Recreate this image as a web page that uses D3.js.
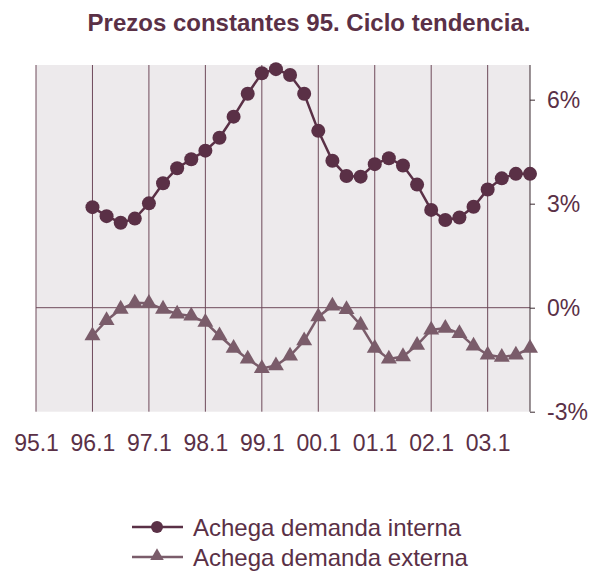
<!DOCTYPE html>
<html>
<head>
<meta charset="utf-8">
<script src="https://cdn.jsdelivr.net/npm/d3@7.9.0/dist/d3.min.js"></script>
<style>
  body { margin: 0; background: #fff; }
  text { font-family: "Liberation Sans", Arial, sans-serif; fill: #5a3046; }
</style>
</head>
<body>
<svg id="chart" width="590" height="577"></svg>
<script>
// quarters 95.1 .. 03.4
const years = ['95', '96', '97', '98', '99', '00', '01', '02', '03'];
const quarters = years.flatMap(y => [1, 2, 3, 4].map(q => `${y}.${q}`));
const tickLabels = ['95.1', '96.1', '97.1', '98.1', '99.1', '00.1', '01.1', '02.1', '03.1'];
const yTicks = [-3, 0, 3, 6];

// series start at 96.1
const seriesStart = '96.1';
const interna = [2.90, 2.64, 2.45, 2.57, 3.01, 3.59, 4.02, 4.28, 4.53, 4.90, 5.51, 6.17,
  6.76, 6.88, 6.71, 6.17, 5.10, 4.24, 3.80, 3.78, 4.14, 4.31, 4.10, 3.55,
  2.82, 2.53, 2.60, 2.91, 3.41, 3.73, 3.86, 3.86];
const externa = [-0.81, -0.37, -0.04, 0.14, 0.13, -0.04, -0.18, -0.24, -0.42, -0.81, -1.17, -1.48,
  -1.75, -1.67, -1.39, -0.95, -0.26, 0.05, -0.05, -0.50, -1.17, -1.48, -1.41, -1.08,
  -0.64, -0.59, -0.74, -1.10, -1.36, -1.43, -1.36, -1.17];

const colInt = '#5a3046';
const colExt = '#7a5c6a';

const svg = d3.select('#chart');
const pLeft = 36, pRight = 530, pTop = 65, pBottom = 411.7;

const x = d3.scalePoint().domain(quarters).range([pLeft, pRight]);
const y = d3.scaleLinear().domain([-3, 7]).range([pBottom, pTop]);

const i0 = quarters.indexOf(seriesStart);
const dInt = interna.map((v, i) => ({ q: quarters[i0 + i], v }));
const dExt = externa.map((v, i) => ({ q: quarters[i0 + i], v }));

// title
svg.append('text')
  .attr('x', 309).attr('y', 31)
  .attr('text-anchor', 'middle')
  .style('font-size', '24px').style('font-weight', 'bold')
  .text('Prezos constantes 95. Ciclo tendencia.');

// plot background
svg.append('rect')
  .attr('x', pLeft).attr('y', pTop)
  .attr('width', pRight - pLeft).attr('height', pBottom - pTop)
  .attr('fill', '#edeaec');

// vertical gridlines at each .1
svg.append('g').selectAll('line')
  .data(tickLabels)
  .join('line')
  .attr('x1', d => x(d)).attr('x2', d => x(d))
  .attr('y1', pTop).attr('y2', pBottom)
  .attr('stroke', '#6e4a5a').attr('stroke-width', 1);

// zero line
svg.append('line')
  .attr('x1', pLeft).attr('x2', pRight)
  .attr('y1', y(0)).attr('y2', y(0))
  .attr('stroke', '#6e4a5a').attr('stroke-width', 1);

// right axis
const yAxis = svg.append('g')
  .attr('transform', `translate(${pRight},0)`)
  .call(d3.axisRight(y).tickValues(yTicks).tickSize(5).tickPadding(12).tickFormat(d => d + '%'));
yAxis.select('.domain').attr('stroke', '#3a2a30').attr('d', `M0,${pTop}V${pBottom}`);
yAxis.selectAll('.tick line').attr('stroke', '#3a2a30');
yAxis.selectAll('.tick text')
  .style('font-size', '23px').style('font-family', '"Liberation Sans", Arial, sans-serif')
  .attr('fill', colInt);

// bottom labels
const xAxis = svg.append('g')
  .attr('transform', `translate(0,${pBottom})`)
  .call(d3.axisBottom(x).tickValues(tickLabels).tickSize(0).tickPadding(23));
xAxis.select('.domain').remove();
xAxis.selectAll('.tick text')
  .style('font-size', '23px').style('font-family', '"Liberation Sans", Arial, sans-serif')
  .attr('fill', colInt);

const line = d3.line().x(d => x(d.q)).y(d => y(d.v));
const tri = d3.symbol().type(d3.symbolTriangle).size(110);

// externa
svg.append('path').datum(dExt)
  .attr('d', line).attr('fill', 'none')
  .attr('stroke', colExt).attr('stroke-width', 2.5);
svg.append('g').selectAll('path')
  .data(dExt)
  .join('path')
  .attr('d', tri)
  .attr('transform', d => `translate(${x(d.q)},${y(d.v)})`)
  .attr('fill', colExt);

// interna
svg.append('path').datum(dInt)
  .attr('d', line).attr('fill', 'none')
  .attr('stroke', colInt).attr('stroke-width', 2.5);
svg.append('g').selectAll('circle')
  .data(dInt)
  .join('circle')
  .attr('cx', d => x(d.q)).attr('cy', d => y(d.v))
  .attr('r', 7)
  .attr('fill', colInt);

// legend
const legend = [
  { label: 'Achega demanda interna', color: colInt, shape: 'circle', ly: 527 },
  { label: 'Achega demanda externa', color: colExt, shape: 'tri', ly: 557 }
];
const lg = svg.append('g').selectAll('g').data(legend).join('g')
  .attr('transform', d => `translate(0,${d.ly})`);
lg.append('line')
  .attr('x1', 132).attr('x2', 183)
  .attr('stroke', d => d.color).attr('stroke-width', 2.5);
lg.filter(d => d.shape === 'circle').append('circle')
  .attr('cx', 157).attr('r', 6).attr('fill', d => d.color);
lg.filter(d => d.shape === 'tri').append('path')
  .attr('d', d3.symbol().type(d3.symbolTriangle).size(80))
  .attr('transform', 'translate(157,-1)')
  .attr('fill', d => d.color);
lg.append('text')
  .attr('x', 193).attr('dy', '0.36em')
  .style('font-size', '24px')
  .text(d => d.label);
</script>
</body>
</html>
